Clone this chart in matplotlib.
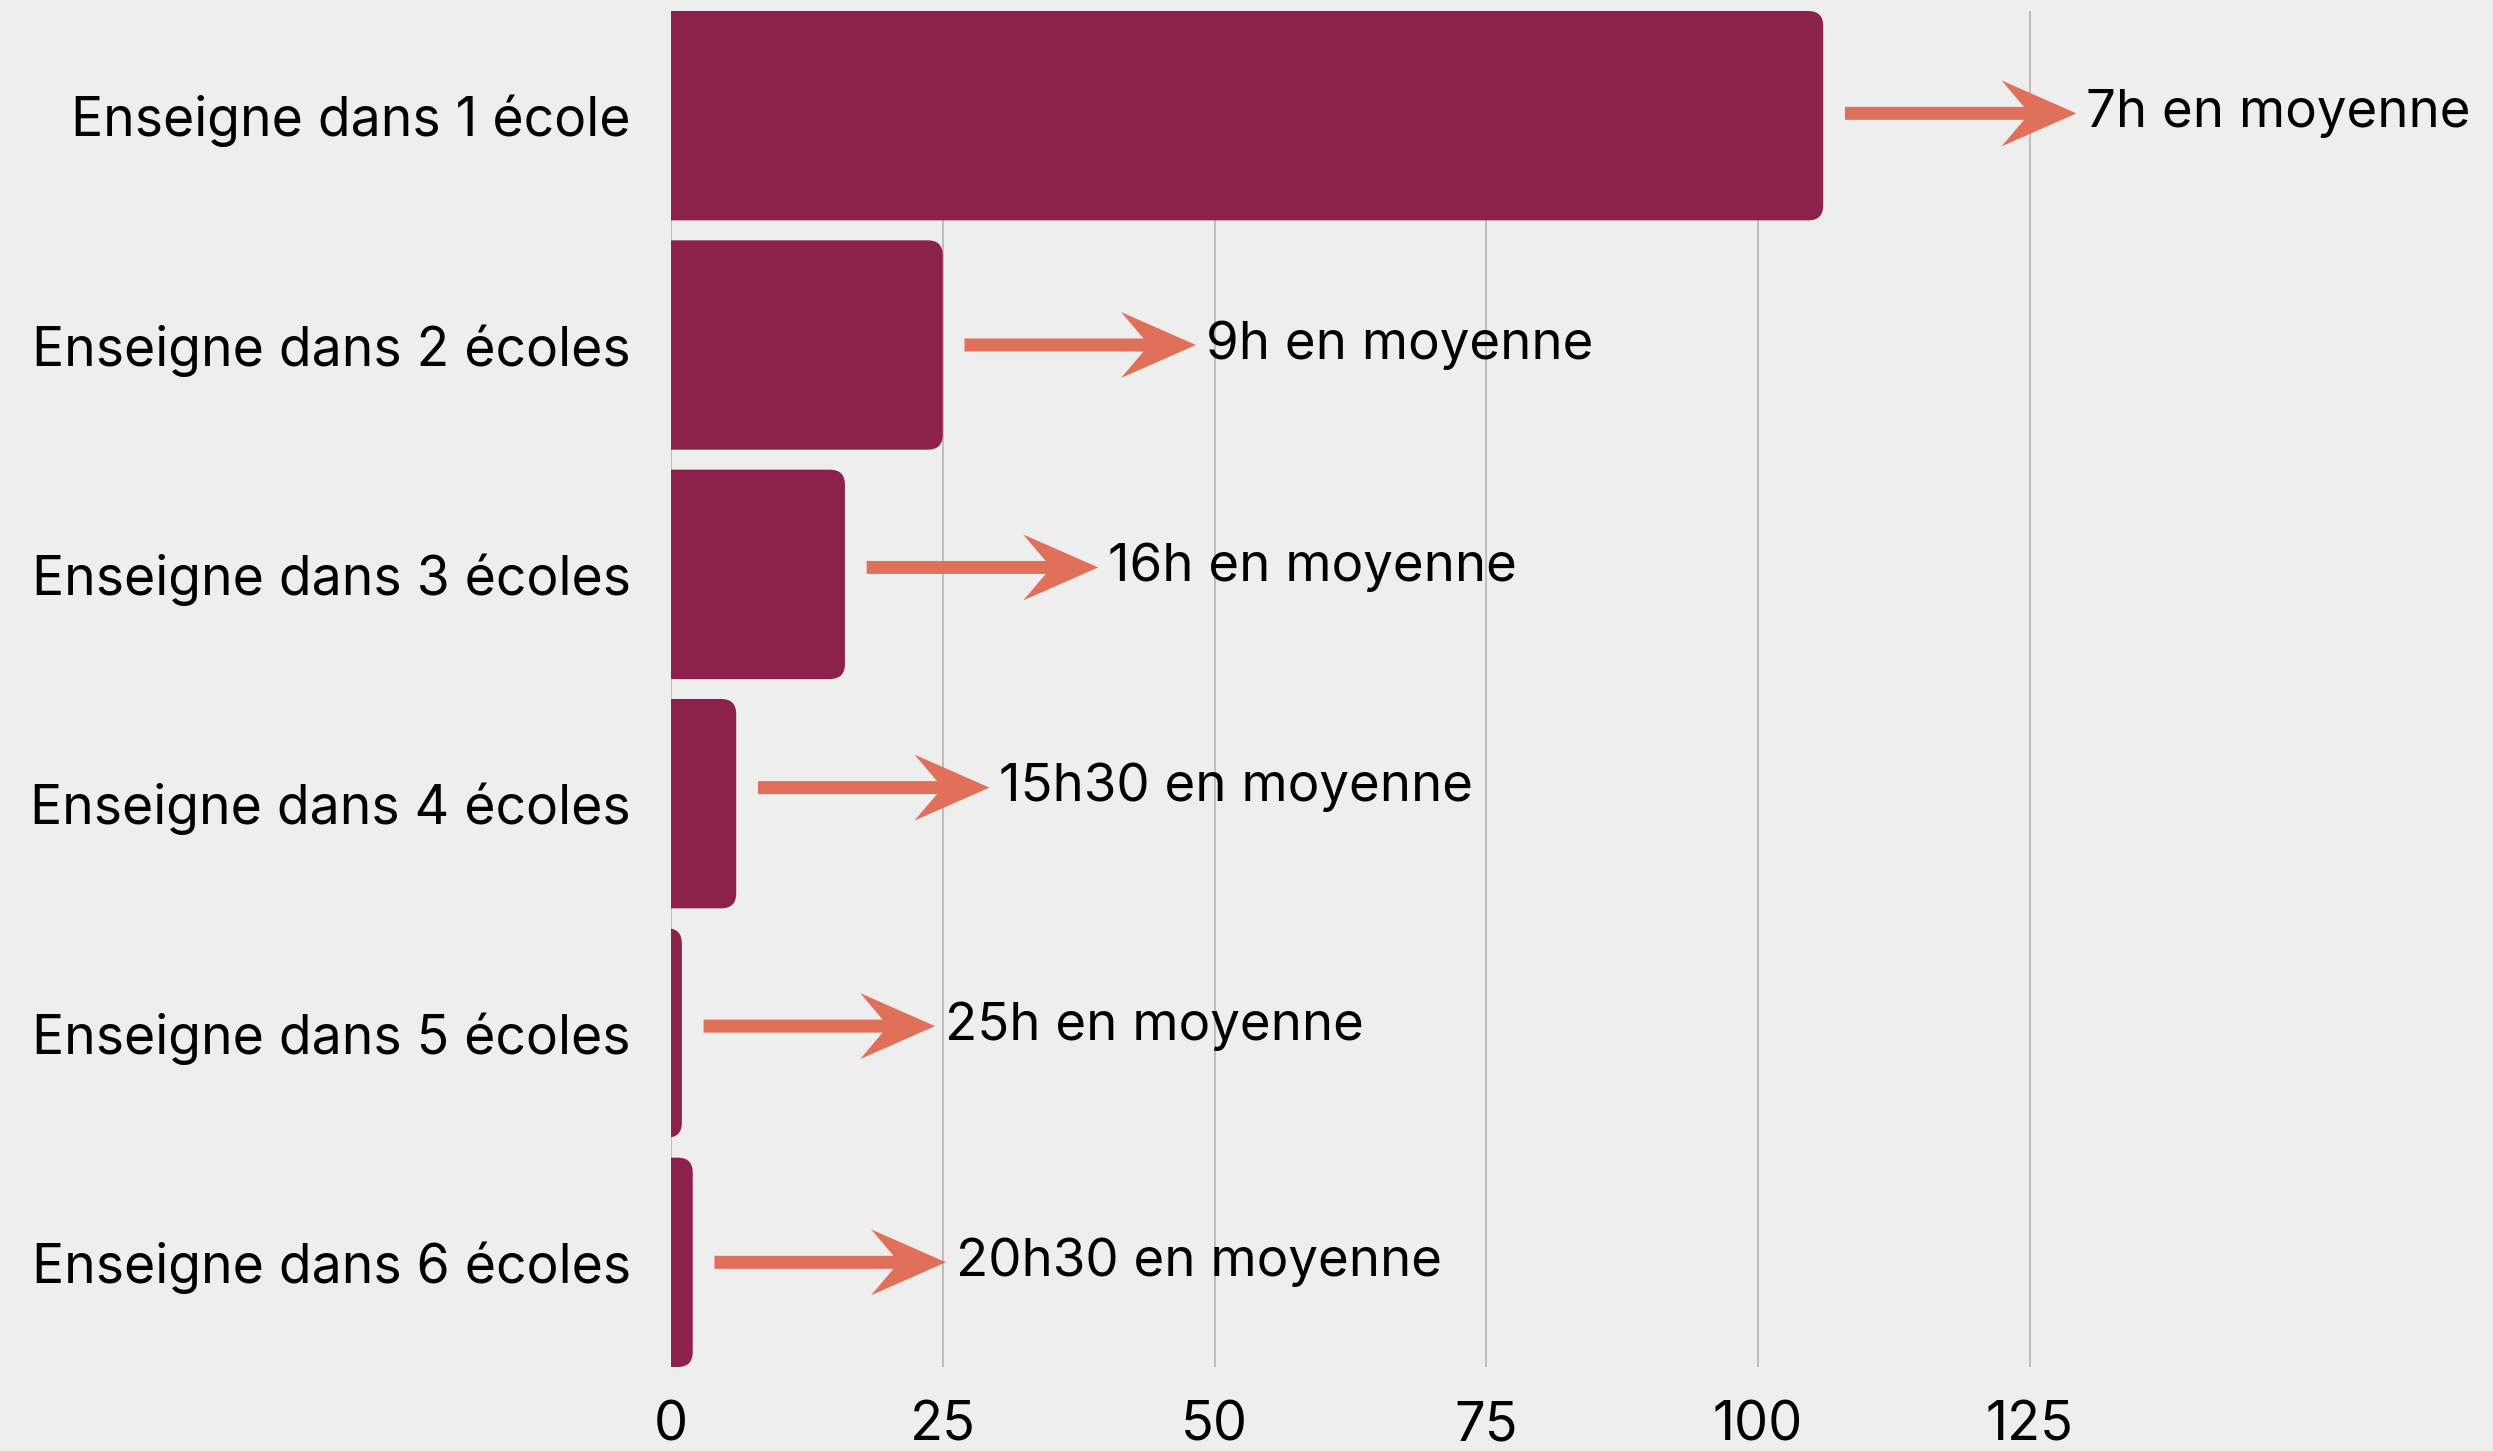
import matplotlib
matplotlib.use('Agg')
import matplotlib.pyplot as plt
from matplotlib.patches import FancyBboxPatch, FancyArrow

# data
categories = ['Enseigne dans 1 école', 'Enseigne dans 2 écoles',
              'Enseigne dans 3 écoles', 'Enseigne dans 4 écoles',
              'Enseigne dans 5 écoles', 'Enseigne dans 6 écoles']
counts = [106, 25, 16, 6, 1, 2]
avg_labels = ['7h en moyenne', '9h en moyenne', '16h en moyenne',
              '15h30 en moyenne', '25h en moyenne', '20h30 en moyenne']
x_ticks = [0, 25, 50, 75, 100, 125]

# small vertical nudges of the arrows (in row units, negative = up)
arrow_shift = [-0.01, 0.0, -0.03, -0.07, -0.03, 0.0]

BG = '#EEEEEE'
BAR = '#8C224B'
ARROW = '#E1705A'
FONT = 'Inter'

W, H, DPI = 2493, 1451, 100
fig = plt.figure(figsize=(W / DPI, H / DPI), dpi=DPI, facecolor=BG)

x_max = 150
ax_left, ax_right = 671, 671 + x_max * 10.87
ax_top, ax_bottom = 11, 1367
ax = fig.add_axes([ax_left / W, 1 - ax_bottom / H,
                   (ax_right - ax_left) / W, (ax_bottom - ax_top) / H])
ax.set_facecolor(BG)

n = len(categories)
ypos = list(range(n))
bar_h = 0.913
ax.set_xlim(0, x_max)
ax.set_ylim(n - 1 + bar_h / 2, -bar_h / 2)

bars = ax.barh(ypos, counts, height=bar_h, color=BAR)

# rounded right-hand corners: swap the plain bars for rounded boxes
px_x = (ax_right - ax_left) / x_max
px_y = (ax_bottom - ax_top) / (n - 1 + bar_h)
r = 15 / px_x
for rect in bars:
    x0, y0 = rect.get_x(), rect.get_y()
    w, h = rect.get_width(), rect.get_height()
    rect.set_visible(False)
    box = FancyBboxPatch((x0 - 3 * r, y0), w + 3 * r, h,
                         boxstyle=f'round,pad=0,rounding_size={r}',
                         mutation_aspect=px_x / px_y,
                         facecolor=BAR, edgecolor='none', zorder=3)
    ax.add_patch(box)

# arrows + average text
arrow_len = 21.3
gap = 2.0
head_len = 75 / px_x
head_w = 66 / px_y
shaft_w = 13 / px_y
for i, (c, lab) in enumerate(zip(counts, avg_labels)):
    y = i + arrow_shift[i]
    ax.add_patch(FancyArrow(c + gap, y, arrow_len, 0, width=shaft_w,
                            head_width=head_w, head_length=head_len,
                            length_includes_head=True, overhang=0.3,
                            color=ARROW, lw=0, zorder=4, clip_on=False))
    ax.text(c + gap + arrow_len + 0.9, y, lab, va='center', ha='left',
            fontsize=38, family=FONT, color='black', zorder=5,
            clip_on=False)

ax.set_yticks(ypos)
ax.set_yticklabels(categories, fontsize=38.5, family=FONT)
ax.set_xticks(x_ticks)
ax.set_xticklabels([str(t) for t in x_ticks], fontsize=39, family=FONT)
ax.tick_params(axis='y', length=0, pad=29)
ax.tick_params(axis='x', length=0, pad=24)
ax.grid(axis='x', color='#BDBDBD', linewidth=1.4)
ax.set_axisbelow(True)
for s in ax.spines.values():
    s.set_visible(False)

fig.savefig('out.png', dpi=DPI, facecolor=BG)
